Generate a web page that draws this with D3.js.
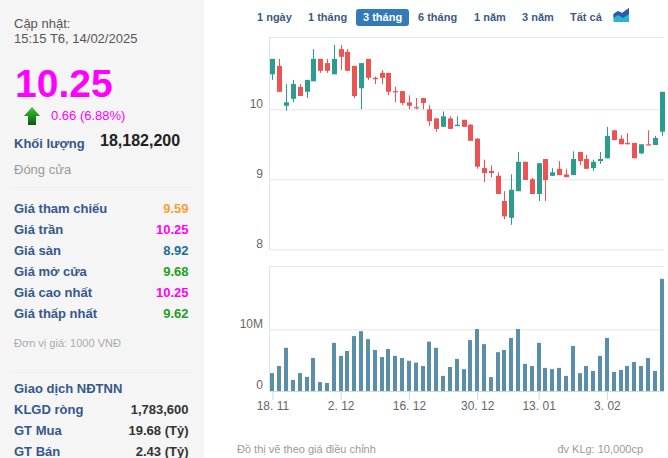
<!DOCTYPE html>
<html lang="vi">
<head>
<meta charset="utf-8">
<script src="https://cdn.jsdelivr.net/npm/d3@7"></script>
<style>
  html, body { margin: 0; padding: 0; background: #fff; overflow: hidden; }
  svg { display: block; font-family: "Liberation Sans", Arial, sans-serif; }
  .axis path { display: none; }
</style>
</head>
<body>
<script>
// candles, oldest first
var opens = [10.50,10.62,10.05,10.15,10.32,10.25,10.40,10.72,10.66,10.50,10.86,10.82,10.62,10.30,10.72,10.45,10.52,10.52,10.26,10.26,
  10.10,10.03,10.16,10.00,9.87,9.75,9.87,9.76,9.85,9.78,9.58,9.16,9.12,9.05,8.69,8.45,8.83,9.25,9.00,8.79,
  9.29,9.05,9.15,9.07,9.06,9.39,9.29,9.16,9.26,9.30,9.70,9.58,9.52,9.52,9.37,9.50,9.49,9.68];
var highs = [10.72,10.72,10.36,10.42,10.36,10.42,10.86,10.72,10.72,10.92,10.92,10.86,10.62,10.66,10.72,10.47,10.56,10.52,10.32,10.26,
  10.20,10.16,10.16,10.06,9.87,9.97,9.90,9.90,9.85,9.79,9.59,9.28,9.20,9.10,8.83,9.07,9.39,9.25,9.02,9.23,
  9.29,9.16,9.26,9.15,9.40,9.39,9.35,9.28,9.39,9.75,9.70,9.63,9.66,9.52,9.50,9.70,9.62,10.25];
var lows = [10.42,10.25,9.98,10.10,10.19,10.16,10.40,10.52,10.52,10.50,10.56,10.55,10.16,10.00,10.42,10.36,10.36,10.20,10.10,10.06,
  10.00,10.00,10.00,9.76,9.68,9.75,9.72,9.76,9.75,9.55,9.15,8.96,9.03,8.79,8.43,8.35,8.83,8.99,8.79,8.69,
  8.69,9.05,9.06,9.03,9.06,9.20,9.15,9.12,9.22,9.30,9.56,9.50,9.50,9.30,9.36,9.49,9.49,9.62];
var closes = [10.72,10.25,10.10,10.36,10.19,10.42,10.72,10.55,10.55,10.72,10.75,10.55,10.19,10.66,10.45,10.43,10.45,10.25,10.25,10.09,
  10.05,10.02,10.09,9.83,9.72,9.90,9.72,9.78,9.75,9.55,9.18,9.09,9.09,8.79,8.47,8.85,9.25,8.99,8.79,9.23,
  8.99,9.10,9.06,9.03,9.29,9.26,9.15,9.25,9.29,9.62,9.56,9.50,9.50,9.30,9.50,9.49,9.59,10.25];
// volume, millions of shares
var volumes = [2.9,4.05,7.0,1.8,2.9,2.3,5.35,1.45,1.3,7.8,5.7,6.5,8.9,9.7,8.4,6.65,5.5,6.8,5.7,5.35,
  4.9,4.6,4.05,8.0,7.0,2.45,3.9,5.2,3.55,8.25,10.05,7.6,2.25,6.3,6.65,8.6,10.05,4.4,4.05,7.8,
  3.75,3.55,3.75,2.45,7.3,2.9,4.05,3.25,5.7,8.6,3.1,3.4,4.05,4.7,4.05,5.35,3.25,18.18];

var priceTicks = [8, 9, 10];
var volumeTicks = [0, 10];
var dateTicks = [0, 10, 20, 30, 39, 49];
var dateLabels = ['18. 11', '2. 12', '16. 12', '30. 12', '13. 01', '3. 02'];
var ranges = ['1 ngày', '1 tháng', '3 tháng', '6 tháng', '1 năm', '3 năm', 'Tất cả'];
var rangeX = [257, 308, 363, 418, 474, 522, 570];

var priceRows = ['Giá tham chiếu', 'Giá trần', 'Giá sàn', 'Giá mở cửa', 'Giá cao nhất', 'Giá thấp nhất'];
var priceValues = ['9.59', '10.25', '8.92', '9.68', '10.25', '9.62'];
var priceColors = ['#f7a033', '#f0f', '#1b6d96', '#1ea01e', '#f0f', '#1ea01e'];
var foreignRows = ['KLGD ròng', 'GT Mua', 'GT Bán'];
var foreignValues = ['1,783,600', '19.68 (Tỷ)', '2.43 (Tỷ)'];

var green = '#2a9d8f', red = '#ec5353', barColor = '#5a8fab';
var labelBlue = '#34588c', gridColor = '#e6e6e6', axisColor = '#ccd6eb';

var svg = d3.select('body').append('svg').attr('width', 668).attr('height', 458);

// left panel
svg.append('rect').attr('x', 0).attr('y', 0).attr('width', 204).attr('height', 458).attr('fill', '#f5f5f5');

function label(x, y, text, size, color, bold, anchor) {
  return svg.append('text').attr('x', x).attr('y', y).text(text)
    .attr('font-size', size).attr('fill', color)
    .attr('font-weight', bold ? 'bold' : 'normal')
    .attr('text-anchor', anchor || 'start');
}

label(14, 28, 'Cập nhật:', 13, '#555');
label(14, 43, '15:15 T6, 14/02/2025', 13, '#555');
label(15, 97, '10.25', 39, '#f0f', true);

var arrowGrad = svg.append('defs').append('linearGradient').attr('id', 'arrowGrad')
  .attr('x1', 0).attr('y1', 0).attr('x2', 0).attr('y2', 1);
arrowGrad.append('stop').attr('offset', 0).attr('stop-color', '#3fc43f');
arrowGrad.append('stop').attr('offset', 1).attr('stop-color', '#045f04');
svg.append('path').attr('d', 'M32 107L40 116H36V125H28V116H24Z').attr('fill', 'url(#arrowGrad)');

label(51, 120, '0.66 (6.88%)', 13, '#f0f');
label(14, 148, 'Khối lượng', 13, labelBlue, true);
label(100, 146, '18,182,200', 16, '#222', true);
label(14, 174, 'Đóng cửa', 13, '#999');
svg.append('line').attr('x1', 14).attr('x2', 192).attr('y1', 187.5).attr('y2', 187.5).attr('stroke', '#eee');

priceRows.forEach(function (d, i) {
  label(14, 213 + i * 20.9, d, 13, labelBlue, true);
  label(188.5, 213 + i * 20.9, priceValues[i], 13, priceColors[i], true, 'end');
});
label(14, 347, 'Đơn vị giá: 1000 VNĐ', 11, '#aaa');
svg.append('line').attr('x1', 14).attr('x2', 192).attr('y1', 372.5).attr('y2', 372.5).attr('stroke', '#eee');
label(14, 393, 'Giao dịch NĐTNN', 13, labelBlue, true);
foreignRows.forEach(function (d, i) {
  label(14, 414 + i * 20.9, d, 13, labelBlue, true);
  label(188.5, 414 + i * 20.9, foreignValues[i], 13, '#333', true, 'end');
});

// range buttons
svg.append('rect').attr('x', 356).attr('y', 9).attr('width', 53).attr('height', 17).attr('rx', 3).attr('fill', '#337ab7');
ranges.forEach(function (d, i) {
  label(rangeX[i], 21, d, 11, i == 2 ? '#fff' : '#3d5a80', true);
});
svg.append('path').attr('d', 'M613.5 22V14L618 11L622 13L629 8V22Z').attr('fill', '#29b6d2');
svg.append('path').attr('d', 'M613.5 18V14L618 11L622 13L629 8V14L623 18L618 15Z').attr('fill', '#2f5aa8');

// chart scales
var x = d3.scalePoint().domain(d3.range(closes.length)).range([272.4, 661.5]);
var yPrice = d3.scaleLinear().domain([8, 10]).range([249.3, 109.3]);
var yVolume = d3.scaleLinear().domain([0, 10]).range([391, 329.3]);

// gridlines
svg.selectAll('.top-line').data([37.5, 266.5]).enter().append('line')
  .attr('x1', 270).attr('x2', 664).attr('y1', function (d) { return d; }).attr('y2', function (d) { return d; })
  .attr('stroke', gridColor);

var priceAxis = svg.append('g').attr('class', 'axis').attr('transform', 'translate(270,0)')
  .call(d3.axisLeft(yPrice).tickValues(priceTicks).tickSize(-394).tickFormat(d3.format('d')));
var volumeAxis = svg.append('g').attr('class', 'axis').attr('transform', 'translate(270,0)')
  .call(d3.axisLeft(yVolume).tickValues(volumeTicks).tickSize(-394).tickFormat(function (d) { return d ? d + 'M' : '0'; }));
svg.selectAll('.axis line').attr('stroke', gridColor);
svg.selectAll('.axis text').attr('x', -7).attr('dy', '-2.2px').attr('font-size', 12)
  .attr('font-family', '"Liberation Sans", Arial, sans-serif').attr('fill', '#666');

// left border of both panels
svg.selectAll('.left-line').data([[37, 250], [266, 391]]).enter().append('line')
  .attr('x1', 269.5).attr('x2', 269.5)
  .attr('y1', function (d) { return d[0]; }).attr('y2', function (d) { return d[1]; })
  .attr('stroke', '#dde3ee');

// volume bars
svg.selectAll('.vol').data(volumes).enter().append('rect')
  .attr('x', function (d, i) { return Math.round(x(i) - 2); })
  .attr('width', 4)
  .attr('y', function (d) { return yVolume(d); })
  .attr('height', function (d) { return yVolume(0) - yVolume(d); })
  .attr('fill', barColor);

svg.append('line').attr('x1', 270).attr('x2', 664).attr('y1', 391.5).attr('y2', 391.5).attr('stroke', axisColor);

// date axis
var dateAxis = svg.append('g').attr('class', 'axis').attr('transform', 'translate(0,391)')
  .call(d3.axisBottom(x).tickValues(dateTicks).tickSize(9).tickFormat(function (d) { return dateLabels[dateTicks.indexOf(d)]; }));
dateAxis.selectAll('line').attr('stroke', axisColor);
dateAxis.selectAll('text').attr('font-size', 12)
  .attr('font-family', '"Liberation Sans", Arial, sans-serif').attr('fill', '#666').attr('y', 13).attr('dy', '6px');

// candles
var candles = svg.selectAll('.candle').data(closes).enter().append('g');
candles.append('line')
  .attr('x1', function (d, i) { return Math.round(x(i)) + 0.5; })
  .attr('x2', function (d, i) { return Math.round(x(i)) + 0.5; })
  .attr('y1', function (d, i) { return yPrice(highs[i]); })
  .attr('y2', function (d, i) { return yPrice(lows[i]); })
  .attr('stroke', function (d, i) { return d >= opens[i] ? green : red; });
candles.append('rect')
  .attr('x', function (d, i) { return Math.round(x(i)) - 2; })
  .attr('width', 5)
  .attr('y', function (d, i) { return yPrice(Math.max(d, opens[i])); })
  .attr('height', function (d, i) { return Math.max(1.2, Math.abs(yPrice(d) - yPrice(opens[i]))); })
  .attr('fill', function (d, i) { return d >= opens[i] ? green : red; });

// footer
label(237, 453, 'Đồ thị vẽ theo giá điều chỉnh', 11, '#999');
label(643, 453, 'đv KLg: 10,000cp', 11, '#999', false, 'end');
</script>
</body>
</html>
